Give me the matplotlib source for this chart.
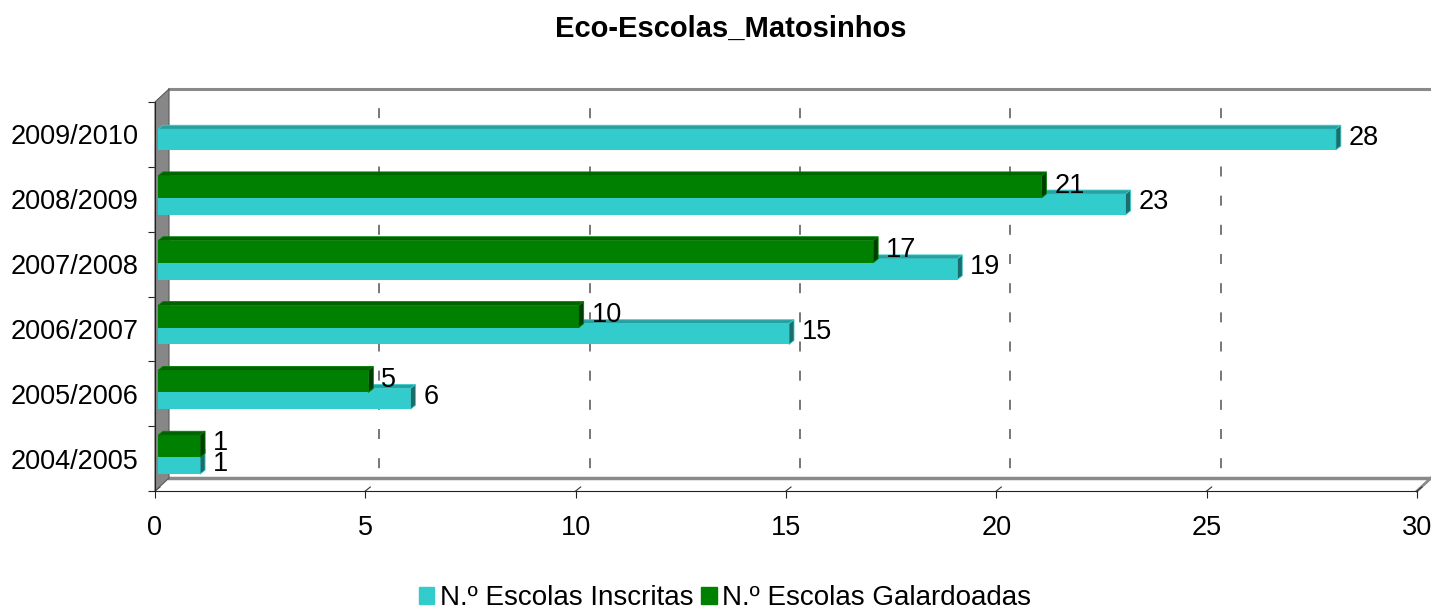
import matplotlib.pyplot as plt
from matplotlib.patches import Polygon, Patch

# dados
anos = ['2004/2005', '2005/2006', '2006/2007', '2007/2008', '2008/2009', '2009/2010']
inscritas = [1, 6, 15, 19, 23, 28]
galardoadas = [1, 5, 10, 17, 21, None]
xticks = [0, 5, 10, 15, 20, 25, 30]

plt.rcParams['font.family'] = ['Liberation Sans', 'DejaVu Sans']

W, H = 1431, 610
fig = plt.figure(figsize=(W / 100, H / 100), dpi=100)
x0, x1, yb, yt = 155, 1417, 491, 102
ax = fig.add_axes([x0 / W, 1 - yb / H, (x1 - x0) / W, (yb - yt) / H])
ax.set_xlim(0, 30)
ax.set_ylim(0, 6)

px = 30 / (x1 - x0)   # unidades de dados por pixel
py = 6 / (yb - yt)
wx, wy = 14 * px, 13 * py   # profundidade da parede de fundo
dx, dy = 5 * px, 4 * py     # profundidade das barras
bx = 3 * px

cinza = '#8a8a8a'

# parede de fundo: linha superior e grelha tracejada
ax.plot([wx, 31 + wx], [6 + wy, 6 + wy], color=cinza, lw=2.2, clip_on=False, zorder=1)
for k in xticks[1:-1]:
    ax.plot([k + wx, k + wx], [6 + wy, wy], color='#606060', lw=1.2,
            linestyle=(6, (6, 11.5)), clip_on=False, zorder=1)

# chao
ax.add_patch(Polygon([(0, 0), (wx, wy), (31 + wx, wy), (31, 0)], closed=True,
                     fc='white', ec='none', clip_on=False, zorder=0.5))
ax.plot([wx, 31 + wx], [wy, wy], color=cinza, lw=2.5, clip_on=False, zorder=1)
ax.plot([30, 30 + wx], [0, wy], color=cinza, lw=2, clip_on=False, zorder=1)
for k in xticks:
    ax.plot([k, k + 5 * px], [0, 4 * py], color='#333333', lw=0.8, clip_on=False, zorder=1)

# parede lateral
ax.add_patch(Polygon([(0, 0), (0, 6), (wx, 6 + wy), (wx, wy)], closed=True,
                     fc='#878787', ec='#5a5a5a', lw=0.8, clip_on=False, zorder=2))


def barra3d(y, h, v, frente, topo, lado, z, ajuste):
    ax.barh(y, v, height=h, left=bx, align='edge', color=frente, zorder=z)
    ax.add_patch(Polygon([(bx, y + h), (bx + v, y + h), (bx + v + dx, y + h + dy),
                          (bx + dx, y + h + dy)], closed=True, fc=topo, ec=frente,
                         lw=0.6, zorder=z))
    ax.add_patch(Polygon([(bx + v, y), (bx + v + dx, y + dy), (bx + v + dx, y + h + dy),
                          (bx + v, y + h)], closed=True, fc=lado, ec=frente,
                         lw=0.6, zorder=z))
    ax.text(bx + v + dx + 8 * px, y + h / 2 + ajuste, str(v), va='center', ha='left',
            fontsize=19.5, zorder=z + 1)


for i, ano in enumerate(anos):
    barra3d(i + 0.26, 0.32, inscritas[i], '#33CCCC', '#2a9f9f', '#1d6b6b', 3,
            0.0 if i == 0 else 0.03)
    if galardoadas[i] is not None:
        barra3d(i + 0.52, 0.34, galardoadas[i], '#008000', '#006300', '#003d00', 4,
                0.05 if i == 0 else 0.02)

# eixos
for s in ['top', 'right']:
    ax.spines[s].set_visible(False)
ax.spines['left'].set_color('#222222')
ax.spines['bottom'].set_color('#222222')
ax.spines['left'].set_zorder(5)
ax.set_facecolor('none')

ax.set_yticks(range(7))
ax.set_yticklabels([])
ax.set_yticks([i + 0.5 for i in range(len(anos))], minor=True)
ax.set_yticklabels(anos, minor=True, fontsize=19.5)
ax.tick_params(axis='y', which='major', length=5, color='#222222')
ax.tick_params(axis='y', which='minor', length=0, pad=12)

ax.set_xticks(xticks)
ax.set_xticklabels([str(t) for t in xticks], fontsize=19.5)
ax.tick_params(axis='x', length=5, color='#222222', pad=12)

fig.text(731 / W, 1 - 29 / H, 'Eco-Escolas_Matosinhos', ha='center', va='center',
         fontsize=21, fontweight='bold')

handles = [Patch(color='#33CCCC'), Patch(color='#008000')]
fig.legend(handles, ['N.º Escolas Inscritas', 'N.º Escolas Galardoadas'],
           loc='center', bbox_to_anchor=(725 / W, 1 - 598 / H), ncol=2, frameon=False,
           fontsize=20, handlelength=0.55, handleheight=0.55, handletextpad=0.2,
           columnspacing=0.3, borderpad=0)

fig.savefig('out.png', dpi=100)
